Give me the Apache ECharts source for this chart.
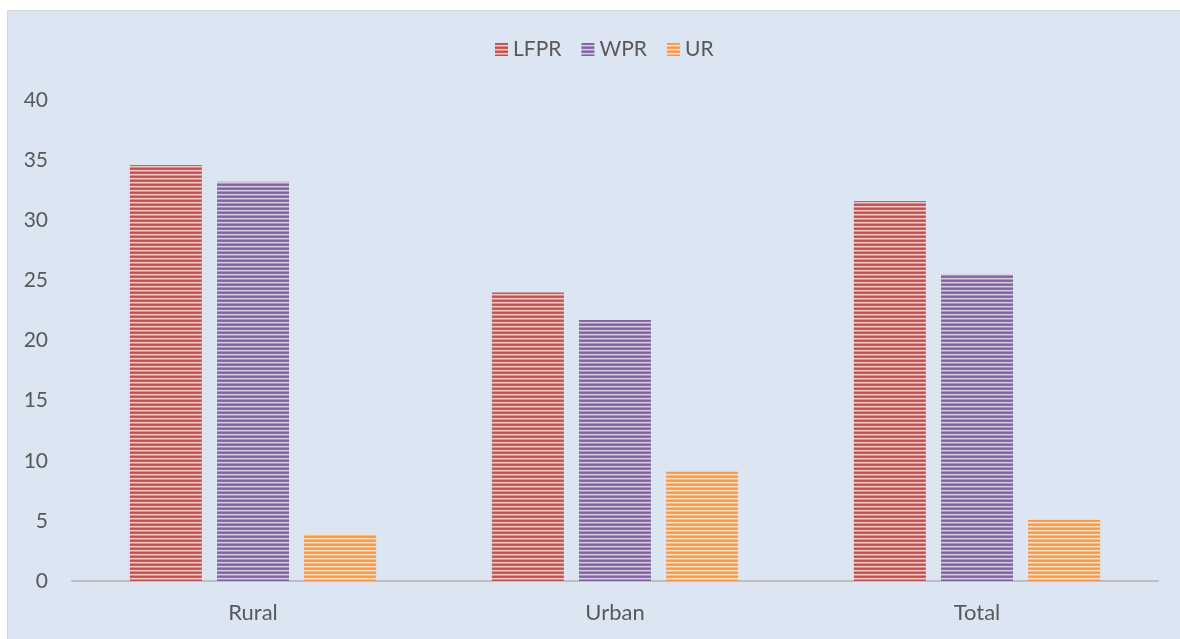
<!DOCTYPE html>
<html><head><meta charset="utf-8">
<script src="https://cdn.jsdelivr.net/npm/echarts@6/dist/echarts.min.js"></script>
<style>html,body{margin:0;padding:0;background:#fff}#c{width:1180px;height:639px}</style>
</head><body><div id="c"></div>
<script>
const categories = ['Rural', 'Urban', 'Total'];
const lfpr = [34.6, 24.0, 31.6];
const wpr = [33.2, 21.7, 25.5];
const ur = [3.9, 9.1, 5.1];
const yTicks = [0, 5, 10, 15, 20, 25, 30, 35, 40];

function stripe(rows) {
  const c = document.createElement('canvas');
  c.width = 4; c.height = rows.length;
  const ctx = c.getContext('2d');
  rows.forEach((col, i) => { ctx.fillStyle = col; ctx.fillRect(0, i, 4, 1); });
  return { image: c, repeat: 'repeat' };
}
const redP = stripe(['#C0504D', '#C85E5B', '#F0C6C4', '#D98F8C']);
const purP = stripe(['#7E63A0', '#8A70AB', '#D6CBE3', '#A996C0']);
const orgP = stripe(['#F79646', '#F9A25A', '#FDDDC0', '#FABB84']);

const chart = echarts.init(document.getElementById('c'));
const font = 'Lato, "Open Sans", sans-serif';
chart.setOption({
  backgroundColor: '#ffffff',
  animation: false,
  graphic: [{
    type: 'rect', z: -10, silent: true,
    shape: { x: 7.5, y: 10.5, width: 1180, height: 640 },
    style: { fill: '#DCE6F2', stroke: '#D4D4D4', lineWidth: 1 }
  }],
  legend: {
    top: 34, left: 490,
    icon: 'rect',
    itemWidth: 13, itemHeight: 13, itemGap: 20,
    textStyle: { fontFamily: font, fontSize: 21, color: '#595959' },
    data: ['LFPR', 'WPR', 'UR']
  },
  grid: { left: 72, right: 22, top: 100, bottom: 58 },
  xAxis: {
    type: 'category', data: categories,
    axisLine: { lineStyle: { color: '#BFBFBF', width: 2 } },
    axisTick: { show: false },
    axisLabel: { fontFamily: font, fontSize: 22, color: '#595959', margin: 21 }
  },
  yAxis: {
    type: 'value', min: yTicks[0], max: yTicks[yTicks.length - 1], interval: 5,
    axisLine: { show: false }, axisTick: { show: false },
    splitLine: { show: false },
    axisLabel: { fontFamily: font, fontSize: 21, color: '#595959', margin: 24 }
  },
  series: [
    { name: 'LFPR', type: 'bar', data: lfpr, barWidth: 72, barGap: '21%', itemStyle: { color: redP } },
    { name: 'WPR', type: 'bar', data: wpr, barWidth: 72, barGap: '21%', itemStyle: { color: purP } },
    { name: 'UR', type: 'bar', data: ur, barWidth: 72, barGap: '21%', itemStyle: { color: orgP } }
  ]
});
</script></body></html>
